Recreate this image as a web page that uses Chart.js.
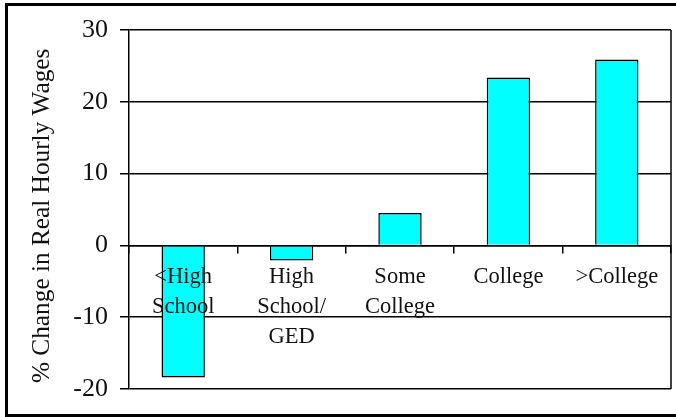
<!DOCTYPE html>
<html>
<head>
<meta charset="utf-8">
<script src="https://cdn.jsdelivr.net/npm/chart.js@4/dist/chart.umd.min.js"></script>
<style>
  html, body { margin: 0; padding: 0; background: #fff; }
  #wrap { width: 676px; height: 417px; position: relative; }
</style>
</head>
<body>
<div id="wrap"><canvas id="myChart" width="676" height="417"></canvas></div>
<script>
'use strict';
//////////////// data
let categories = [['<High', 'School'], ['High', 'School/', 'GED'], ['Some', 'College'], 'College', '>College'];
let wageChange = [-18.4, -2.1, 4.5, 23.4, 25.9];
let yMin = -20;
let yMax = 30;
let yStep = 10;
let yTitle = '% Change in Real Hourly Wages  ';

//////////////// frame around picture (right side is cut off) + right side of plot
let framePlugin = {
  id: 'frame',
  afterDraw(chart) {
    let ctx = chart.ctx;
    let a = chart.chartArea;
    ctx.save();
    ctx.strokeStyle = '#000';
    ctx.lineWidth = 1.5;
    ctx.beginPath();
    ctx.moveTo(a.right, a.top);
    ctx.lineTo(a.right, a.bottom);
    ctx.stroke();
    ctx.lineWidth = 3;
    ctx.strokeRect(6.5, 4.5, 700, 411);
    ctx.restore();
  }
};

let ctx = document.getElementById('myChart').getContext('2d');
let myChart = new Chart(ctx, {
  type: 'bar',
  data: {
    labels: categories,
    datasets: [{
      data: wageChange,
      backgroundColor: '#00FFFF',
      borderColor: '#000',
      borderWidth: 1.5,
      barPercentage: 0.4,
      categoryPercentage: 1
    }]
  },
  options: {
    responsive: false,
    animation: false,
    layout: { padding: { top: 30, bottom: 28, right: 5, left: 0 } },
    plugins: { legend: { display: false }, tooltip: { enabled: false } },
    scales: {
      x: {
        position: { y: 0 },
        offset: true,
        grid: { offset: true, drawOnChartArea: false, drawTicks: true, tickLength: 7, color: '#000', lineWidth: 1.5 },
        border: { color: '#000', width: 1.5, z: 1 },
        ticks: {
          z: 1,
          color: '#111',
          padding: 10,
          maxRotation: 0,
          autoSkip: false,
          font: { family: 'Liberation Serif', size: 22.5, lineHeight: 1.33 }
        }
      },
      y: {
        min: yMin,
        max: yMax,
        afterFit(scale) { scale.width = 129; },
        grid: { color: '#000', lineWidth: 1.5, tickLength: 9 },
        border: { color: '#000', width: 1.5 },
        ticks: {
          stepSize: yStep,
          color: '#111',
          padding: 12,
          font: { family: 'Liberation Serif', size: 26 }
        },
        title: {
          display: true,
          text: yTitle,
          color: '#111',
          padding: { top: 27, bottom: 0 },
          font: { family: 'Liberation Serif', size: 25.3 }
        }
      }
    }
  },
  plugins: [framePlugin]
});
</script>
</body>
</html>
